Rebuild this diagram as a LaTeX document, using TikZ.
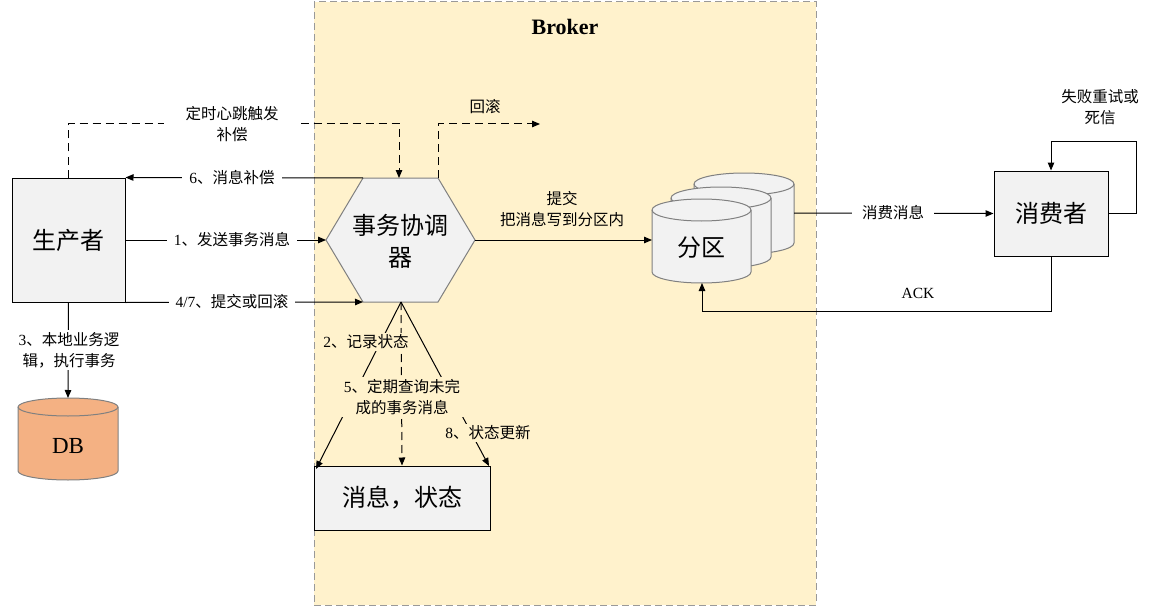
\documentclass[tikz,border=0pt]{standalone}
\usepackage{fontspec}
\setmainfont{Liberation Serif}
\newfontfamily\cjk{Noto Sans CJK SC}
\usetikzlibrary{arrows.meta,calc}

\definecolor{brokerfill}{HTML}{FFF2CC}
\definecolor{brokerline}{HTML}{999999}
\definecolor{boxfill}{HTML}{F2F2F2}
\definecolor{shapeline}{HTML}{808080}
\definecolor{dbfill}{HTML}{F4B183}

\newcommand\latpart[1]{{\rmfamily #1}}
\newcommand\drawcyl[6]{%
  \pgfmathsetmacro\cylrx{(#2-#1)/2}%
  \filldraw[draw=shapeline, line width=1pt, fill=#6] (#1,#3+#5) -- (#1,#4-#5)
    arc[start angle=180, end angle=360, x radius=\cylrx pt, y radius=#5 pt]
    -- (#2,#3+#5)
    arc[start angle=0, end angle=180, x radius=\cylrx pt, y radius=#5 pt] -- cycle;
  \draw[shapeline, line width=1pt] (#1,#3+#5)
    arc[start angle=180, end angle=360, x radius=\cylrx pt, y radius=#5 pt];
}

\tikzset{
  conn/.style={line width=1pt, draw=black},
  arr/.style={conn, -{Triangle[length=8pt,width=6.5pt]}},
  dline/.style={dash pattern=on 8pt off 5pt},
  lbl/.style={font=\fontsize{15.5}{21}\selectfont\cjk, inner ysep=2pt, inner xsep=4pt, align=center, fill=white},
  lbly/.style={lbl, fill=brokerfill},
  lblplain/.style={lbl, fill=none},
  bigtext/.style={font=\fontsize{24}{32}\selectfont\cjk, align=center},
  box/.style={draw=black, line width=1pt, fill=boxfill, bigtext, inner sep=0pt},
}

\begin{document}
\begin{tikzpicture}[x=1pt,y=-1pt]
\useasboundingbox (0,0) rectangle (1151,607);

% Broker container
\node[draw=brokerline, line width=1pt, dash pattern=on 7pt off 4pt, fill=brokerfill,
      minimum width=502pt, minimum height=603pt, inner sep=0pt] (broker) at (565,303.5) {};
\node[font=\fontsize{22}{25}\selectfont\bfseries] (brokerT) at (565,27) {Broker};

% boxes
\node[box, minimum width=113pt, minimum height=124pt] (prod) at (68.5,240) {生产者};
\node[box, minimum width=114pt, minimum height=85pt] (cons) at (1051,213.5) {消费者};
\node[box, minimum width=176pt, minimum height=64pt] (msg) at (402,498) {消息，状态};

% hexagon
\draw[shapeline, line width=1pt, fill=boxfill]
  (326,240) coordinate (hexW) -- (363,178) coordinate (hexNW) -- (438,178) coordinate (hexNE)
  -- (475,240) coordinate (hexE) -- (438,302) coordinate (hexSE) -- (363,302) coordinate (hexSW) -- cycle;
\coordinate (hexN) at (399,178);
\coordinate (hexS) at (401,302);
\node[bigtext] (hex) at (400.5,241) {事务协调\\器};

% partitions
\drawcyl{694}{794}{173}{254}{11}{boxfill}
\drawcyl{671}{771}{187}{268}{11}{boxfill}
\drawcyl{652}{751}{199}{283}{11}{boxfill}
\node[bigtext] (part) at (701.5,248) {分区};
\coordinate (partW) at (652,240);
\coordinate (partS) at (702,283);
\coordinate (backE) at (794,213);

% DB
\drawcyl{18}{118}{398}{480}{9}{dbfill}
\node[font=\fontsize{23}{26}\selectfont] (db) at (68,446) {DB};
\coordinate (dbN) at (68,398);

% helper coordinates
\coordinate (rbEnd) at (540,124);
\coordinate (loopTop) at (1051,142);
\coordinate (ackC) at (702,311);
\coordinate (msgL) at (316,469);
\coordinate (msgR) at (489,466);

% connectors
\draw[arr, dline] (prod.north) -- ++(0,-54) -| (hexN);
\draw[arr, dline] (hexNE) -- ++(0,-54) -- (rbEnd);
\draw[arr] (hexNW) -- (prod.north east);
\draw[arr] (prod.east) -- (hexW);
\draw[arr] (prod.south east) -- (hexSW);
\draw[arr] (hexE) -- (partW);
\draw[arr] (backE) -- (cons.west);
\draw[arr] (cons.east) -- ++(28,0) |- (loopTop) -- (cons.north);
\draw[arr] (cons.south) |- (ackC) -- (partS);
\draw[arr] (prod.south) -- (dbN);
\draw[arr] (hexS) -- (msgL);
\draw[arr, dline] (hexS) -- (msg.north);
\draw[arr] (hexS) -- (msgR);

% labels
\node[lbl, inner xsep=22pt] (l0) at (232,124) {定时心跳触发\\补偿};
\node[lblplain] (lrb) at (485,107) {回滚};
\node[lbl, inner xsep=7pt] (l6) at (232,178) {\latpart{6}、消息补偿};
\node[lbl, inner xsep=7pt] (l1) at (232,240) {\latpart{1}、发送事务消息};
\node[lbl, inner xsep=7pt] (l4) at (232,302) {\latpart{4/7}、提交或回滚};
\node[lblplain] (lc) at (562,209) {提交\\把消息写到分区内};
\node[lbl, inner xsep=10pt] (lx) at (893,213) {消费消息};
\node[lblplain] (lf) at (1100,107) {失败重试或\\死信};
\node[lblplain, font=\fontsize{15.5}{21}\selectfont] (lack) at (918,293) {ACK};
\node[lbl] (l3) at (69,350) {\latpart{3}、本地业务逻\\辑，执行事务};
\node[lbly] (l2) at (366,342) {\latpart{2}、记录状态};
\node[lbly] (l5) at (402,397) {\latpart{5}、定期查询未完\\成的事务消息};
\node[lbly] (l8) at (488,433) {\latpart{8}、状态更新};
\end{tikzpicture}
\end{document}
